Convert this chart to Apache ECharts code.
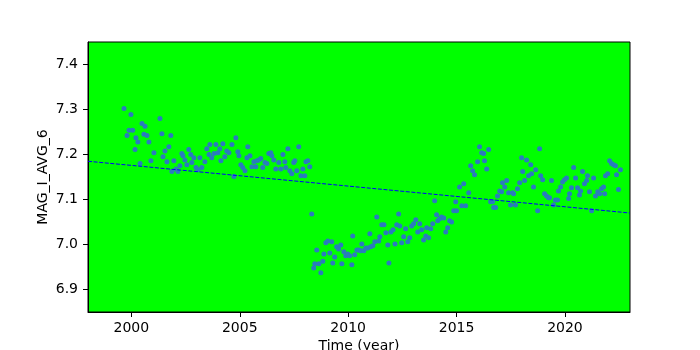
<!DOCTYPE html>
<html>
<head>
<meta charset="utf-8">
<script src="https://cdn.jsdelivr.net/npm/echarts@6/dist/echarts.min.js"></script>
<style>html,body{margin:0;padding:0;background:#fff;}#c{width:700px;height:350px;}</style>
</head>
<body>
<div id="c"></div>
<script>
// Observation times (decimal year)
const years = [
1999.66,1999.98,1999.80,1999.89,2000.06,2000.21,2000.30,2000.17,2000.40,2000.49,
2000.63,2000.58,2000.72,2000.81,2000.90,2001.04,2001.32,2001.41,2001.46,2001.55,
2001.64,2001.73,2001.82,2001.87,2001.96,2002.06,2002.15,2002.24,2002.33,2002.38,
2002.47,2002.56,2002.65,2002.74,2002.79,2002.88,2002.98,2003.07,2003.16,2003.25,
2003.39,2003.48,2003.58,2003.62,2003.71,2003.81,2003.90,2003.99,2004.08,2004.13,
2004.22,2004.31,2004.40,2004.50,2004.64,2004.73,2004.82,2004.91,2004.96,2005.05,
2005.14,2005.24,2005.33,2005.37,2005.47,2005.56,2005.65,2005.74,2005.79,2005.88,
2005.97,2006.06,2006.16,2006.25,2006.34,2006.43,2006.48,2006.57,2006.66,2006.80,
2006.89,2006.99,2007.08,2007.12,2007.22,2007.31,2007.40,2007.49,2007.54,2007.63,
2007.72,2007.82,2007.91,2008.00,2008.05,2008.14,2008.23,
2008.32,2008.41,2008.46,2008.55,2008.65,2008.74,2008.83,2008.88,2008.97,2009.06,
2009.15,2009.24,2009.29,2009.38,2009.47,2009.56,2009.66,2009.71,2009.80,2009.89,
2009.98,2010.07,2010.17,2010.21,2010.30,2010.40,2010.49,2010.58,2010.63,2010.72,
2010.81,2010.90,2011.00,2011.04,2011.14,2011.23,2011.32,2011.41,2011.46,2011.55,
2011.65,2011.74,2011.83,2011.88,2011.97,2012.07,2012.16,2012.24,2012.33,2012.38,
2012.47,2012.56,2012.65,2012.75,2012.84,2012.93,2013.02,2013.12,2013.21,2013.30,
2013.39,2013.48,2013.58,2013.62,2013.71,2013.81,2013.90,2013.99,2014.08,2014.13,
2014.22,2014.31,2014.41,2014.50,2014.59,2014.68,2014.77,2014.87,2014.96,2015.00,
2015.14,2015.24,2015.33,2015.42,2015.56,2015.65,2015.74,2015.83,2015.97,2016.06,
2016.16,2016.25,2016.29,2016.39,2016.48,2016.57,2016.66,2016.71,2016.80,2016.89,
2016.99,2017.08,2017.12,2017.22,2017.31,2017.40,2017.49,2017.59,2017.63,2017.72,
2017.81,2017.91,2018.00,2018.05,2018.14,2018.23,2018.32,2018.42,2018.46,2018.55,
2018.65,2018.74,2018.83,2018.88,2018.97,2019.06,2019.15,2019.24,2019.29,2019.38,
2019.47,2019.56,2019.66,2019.70,2019.80,2019.89,2019.98,2020.07,2020.17,2020.21,
2020.30,2020.40,2020.49,2020.58,2020.67,2020.72,2020.81,2020.90,2021.00,2021.04,
2021.13,2021.23,2021.32,2021.41,2021.51,2021.60,2021.69,2021.78,2021.83,2021.87,
2021.97,2022.06,2022.15,2022.24,2022.33,2022.38,2022.47,2022.56
];
// MAG_I_AVG_6 values
const mags = [
7.302,7.289,7.242,7.254,7.254,7.237,7.228,7.211,7.180,7.269,
7.263,7.245,7.242,7.228,7.186,7.204,7.280,7.246,7.195,7.208,
7.184,7.217,7.242,7.162,7.186,7.168,7.162,7.175,7.202,7.197,
7.188,7.177,7.211,7.200,7.182,7.193,7.171,7.166,7.193,7.171,
7.184,7.213,7.200,7.222,7.193,7.202,7.222,7.204,7.213,7.186,
7.224,7.195,7.208,7.204,7.222,7.151,7.237,7.206,7.197,7.177,
7.171,7.164,7.193,7.217,7.197,7.173,7.184,7.173,7.186,7.188,
7.191,7.171,7.182,7.180,7.202,7.204,7.197,7.188,7.168,7.182,
7.168,7.200,7.184,7.171,7.213,7.164,7.157,7.182,7.186,7.164,
7.217,7.153,7.168,7.153,7.184,7.186,7.173,
7.068,6.948,6.957,6.988,6.957,6.937,6.963,6.979,7.004,7.008,
6.981,7.006,6.959,6.972,6.995,6.990,6.999,6.957,6.984,6.975,
6.979,6.975,6.955,7.019,6.977,6.988,6.988,6.986,7.001,6.986,
6.992,6.992,7.024,6.995,6.997,7.006,7.061,7.008,7.017,7.044,
7.044,7.026,6.999,6.959,7.028,7.033,7.001,7.044,7.068,7.041,
7.004,7.017,7.035,7.006,7.015,7.041,7.046,7.055,7.028,7.046,
7.033,7.010,7.019,7.037,7.015,7.035,7.046,7.097,7.066,7.053,
7.057,7.061,7.059,7.028,7.037,7.053,7.050,7.075,7.095,7.075,
7.128,7.086,7.135,7.086,7.115,7.175,7.164,7.155,7.184,7.217,
7.204,7.202,7.186,7.168,7.211,7.095,7.095,7.082,7.082,7.108,
7.119,7.117,7.137,7.128,7.142,7.115,7.088,7.115,7.113,7.088,
7.124,7.137,7.193,7.162,7.142,7.188,7.153,7.177,7.157,7.128,
7.166,7.075,7.213,7.153,7.144,7.113,7.108,7.104,7.104,7.142,
7.088,7.099,7.099,7.119,7.128,7.139,7.144,7.148,7.102,7.113,
7.126,7.171,7.148,7.126,7.110,7.119,7.162,7.135,7.142,7.153,
7.117,7.075,7.148,7.108,7.117,7.113,7.124,7.128,7.113,7.153,
7.157,7.186,7.180,7.177,7.175,7.155,7.122,7.166
];
// Linear trend endpoints
const trendX = [1998, 2023];
const trendY = [7.185, 7.070];
// Tick labels
const xTicks = [2000, 2005, 2010, 2015, 2020];
const yTicks = [6.9, 7.0, 7.1, 7.2, 7.3, 7.4];

const points = years.map((y, i) => [y, mags[i]]);
const trend = trendX.map((x, i) => [x, trendY[i]]);

const font = 'DejaVu Sans';
const chart = echarts.init(document.getElementById('c'), null, {renderer: 'canvas'});
chart.setOption({
  animation: false,
  backgroundColor: '#ffffff',
  grid: {left: 88, right: 70, top: 42, bottom: 38, show: true, backgroundColor: '#00ff00', borderColor: '#000', borderWidth: 1, containLabel: false, outerBoundsMode: 'none'},
  xAxis: {
    type: 'value', min: 1998, max: 2023,
    name: 'Time (year)', nameLocation: 'middle', nameGap: 27, nameMoveOverlap: false,
    nameTextStyle: {fontFamily: font, fontSize: 14, color: '#000', verticalAlign: 'top'},
    splitLine: {show: false},
    axisLine: {show: true, onZero: false, lineStyle: {color: '#000', width: 1}},
    axisTick: {show: true, length: 5, lineStyle: {color: '#000'}, customValues: xTicks},
    axisLabel: {fontFamily: font, fontSize: 14, color: '#000', margin: 9, customValues: xTicks, formatter: v => String(v)}
  },
  yAxis: {
    type: 'value', min: 6.85, max: 7.45,
    name: 'MAG_I_AVG_6', nameLocation: 'middle', nameGap: 38, nameRotate: 90, nameMoveOverlap: false,
    nameTextStyle: {fontFamily: font, fontSize: 14, color: '#000'},
    splitLine: {show: false},
    axisLine: {show: true, onZero: false, lineStyle: {color: '#000', width: 1}},
    axisTick: {show: true, length: 5, lineStyle: {color: '#000'}, customValues: yTicks},
    axisLabel: {fontFamily: font, fontSize: 14, color: '#000', margin: 10, customValues: yTicks, formatter: v => v.toFixed(1)}
  },
  series: [
    {type: 'scatter', data: points, symbol: 'circle', symbolSize: 5, itemStyle: {color: '#2a7cbd', opacity: 1}, z: 2},
    {type: 'line', data: trend, showSymbol: false, symbol: 'none', lineStyle: {color: '#0000ff', width: 1, type: [4, 1.6]}, z: 3}
  ]
});
</script>
</body>
</html>
